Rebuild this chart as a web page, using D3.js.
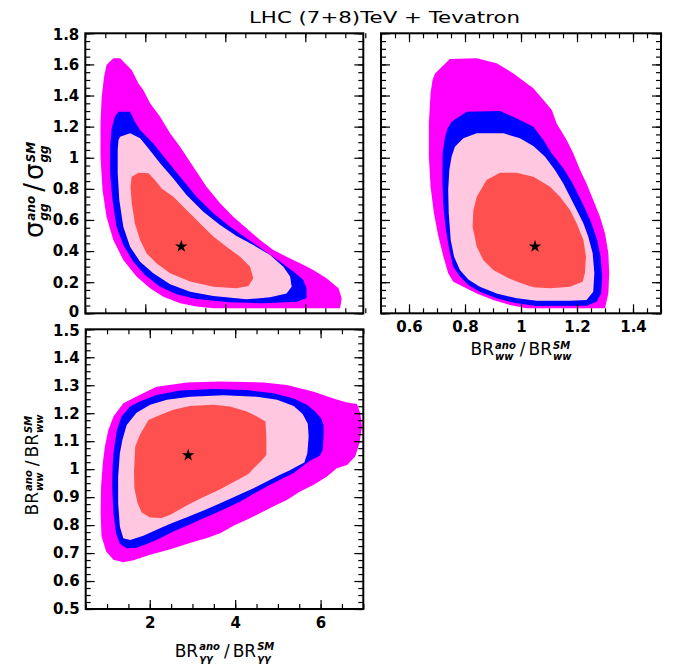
<!DOCTYPE html>
<html><head><meta charset="utf-8">
<script src="https://cdn.jsdelivr.net/npm/d3@7"></script>
<style>body{margin:0;background:#fff}</style>
</head><body>
<svg id="chart" width="673" height="669"></svg>
<script>
// ---------------- DATA ----------------
const titleText = "LHC (7+8)TeV + Tevatron";

const sigmaTicks = [0, 0.2, 0.4, 0.6, 0.8, 1, 1.2, 1.4, 1.6, 1.8];
const brWWxTicks = [0.6, 0.8, 1, 1.2, 1.4];
const brWWyTicks = [0.5, 0.6, 0.7, 0.8, 0.9, 1, 1.1, 1.2, 1.3, 1.4, 1.5];
const brGGTicks = [2, 4, 6];

// Top-left: x = BR_gamgam ratio, y = sigma_gg ratio
const tlMagenta = [[1.20,1.64],[1.37,1.64],[1.66,1.564],[1.83,1.478],[1.95,1.435],[2.12,1.35],[2.37,1.264],[2.62,1.157],[2.87,1.071],[3.20,0.942],[3.53,0.814],[3.87,0.707],[4.20,0.621],[4.53,0.546],[4.87,0.471],[5.20,0.407],[5.53,0.364],[5.87,0.321],[6.20,0.278],[6.53,0.225],[6.83,0.161],[6.91,0.096],[6.87,0.032],[3.70,0.032],[3.28,0.043],[2.87,0.064],[2.45,0.107],[2.12,0.161],[1.78,0.236],[1.45,0.343],[1.20,0.471],[1.03,0.621],[0.93,0.793],[0.88,1.007],[0.88,1.221],[0.91,1.392],[0.97,1.521],[1.03,1.596]];
const tlBlue = [[1.33,1.296],[1.62,1.296],[1.74,1.232],[1.87,1.178],[2.20,1.092],[2.53,0.985],[2.87,0.878],[3.28,0.75],[3.70,0.643],[4.12,0.557],[4.53,0.482],[4.95,0.407],[5.37,0.332],[5.70,0.268],[5.95,0.214],[6.03,0.161],[6.03,0.096],[5.78,0.075],[4.95,0.064],[4.12,0.071],[3.28,0.092],[2.78,0.122],[2.37,0.171],[1.99,0.246],[1.70,0.332],[1.45,0.439],[1.28,0.557],[1.18,0.728],[1.12,0.9],[1.12,1.071],[1.16,1.189],[1.24,1.264]];
const tlPink = [[1.37,1.135],[1.62,1.157],[1.87,1.125],[2.08,1.06],[2.37,0.964],[2.70,0.867],[3.03,0.76],[3.45,0.653],[3.87,0.568],[4.28,0.497],[4.70,0.439],[5.12,0.375],[5.45,0.3],[5.62,0.236],[5.66,0.171],[5.53,0.128],[5.12,0.103],[4.53,0.09],[3.70,0.111],[3.12,0.139],[2.62,0.186],[2.20,0.257],[1.87,0.332],[1.62,0.428],[1.45,0.557],[1.35,0.728],[1.31,0.9],[1.31,1.05],[1.33,1.114]];
const tlRed = [[1.66,0.878],[1.83,0.904],[2.08,0.9],[2.24,0.857],[2.41,0.803],[2.70,0.75],[3.03,0.664],[3.37,0.578],[3.70,0.493],[4.03,0.428],[4.37,0.364],[4.62,0.3],[4.70,0.225],[4.58,0.176],[4.28,0.161],[3.70,0.171],[3.12,0.204],[2.62,0.257],[2.28,0.321],[2.03,0.386],[1.87,0.471],[1.74,0.578],[1.66,0.707],[1.63,0.814]];
const tlBest = [2.9, 0.43];

// Top-right: x = BR_WW ratio, y = sigma_gg ratio
const trMagenta = [[0.693,1.542],[0.746,1.634],[0.842,1.639],[0.913,1.607],[0.973,1.542],[1.044,1.446],[1.08,1.371],[1.11,1.307],[1.127,1.221],[1.163,1.114],[1.187,1.028],[1.211,0.921],[1.234,0.835],[1.258,0.728],[1.282,0.621],[1.30,0.514],[1.312,0.386],[1.315,0.257],[1.312,0.128],[1.30,0.032],[1.02,0.032],[0.961,0.053],[0.901,0.086],[0.842,0.128],[0.794,0.171],[0.758,0.203],[0.74,0.257],[0.723,0.364],[0.705,0.493],[0.689,0.643],[0.677,0.814],[0.671,1.007],[0.671,1.221],[0.677,1.414],[0.684,1.5]];
const trBlue = [[0.752,1.232],[0.806,1.296],[0.925,1.30],[0.985,1.253],[1.044,1.2],[1.08,1.114],[1.11,1.028],[1.151,0.932],[1.181,0.846],[1.205,0.76],[1.228,0.675],[1.252,0.578],[1.272,0.471],[1.284,0.364],[1.29,0.236],[1.286,0.128],[1.27,0.075],[1.234,0.049],[1.056,0.047],[0.985,0.064],[0.913,0.096],[0.853,0.139],[0.812,0.182],[0.782,0.236],[0.758,0.3],[0.744,0.407],[0.732,0.535],[0.723,0.685],[0.719,0.857],[0.72,1.028],[0.729,1.135],[0.738,1.189]];
const trPink = [[0.764,1.071],[0.794,1.125],[0.842,1.157],[0.937,1.157],[0.996,1.125],[1.044,1.075],[1.086,1.007],[1.121,0.921],[1.151,0.835],[1.175,0.75],[1.199,0.664],[1.223,0.578],[1.24,0.493],[1.256,0.386],[1.262,0.257],[1.258,0.139],[1.234,0.086],[1.175,0.081],[1.056,0.081],[0.985,0.096],[0.913,0.128],[0.853,0.171],[0.812,0.218],[0.782,0.278],[0.761,0.364],[0.749,0.471],[0.742,0.643],[0.740,0.793],[0.744,0.921],[0.752,1.007]];
const trRed = [[0.83,0.664],[0.842,0.75],[0.877,0.857],[0.925,0.904],[0.984,0.904],[1.044,0.878],[1.104,0.814],[1.139,0.75],[1.175,0.664],[1.199,0.578],[1.223,0.471],[1.232,0.364],[1.228,0.257],[1.22,0.203],[1.175,0.171],[1.104,0.161],[1.044,0.167],[0.996,0.197],[0.949,0.231],[0.901,0.278],[0.865,0.343],[0.842,0.428],[0.827,0.557]];
const trBest = [1.05, 0.43];

// Bottom-left: x = BR_gamgam ratio, y = BR_WW ratio
const blMagenta = [[1.03,1.14],[1.15,1.188],[1.38,1.236],[1.69,1.26],[2.16,1.295],[2.87,1.31],[3.65,1.313],[4.66,1.31],[5.21,1.301],[5.84,1.277],[6.30,1.253],[6.62,1.238],[6.85,1.233],[6.93,1.2],[6.97,1.152],[6.91,1.093],[6.81,1.045],[6.62,1.015],[6.38,1.003],[6.15,0.974],[5.84,0.944],[5.52,0.92],[5.21,0.890],[4.90,0.867],[4.59,0.843],[4.27,0.819],[3.96,0.798],[3.65,0.771],[3.34,0.754],[2.94,0.736],[2.48,0.714],[2.01,0.694],[1.62,0.674],[1.38,0.667],[1.15,0.676],[0.98,0.706],[0.87,0.76],[0.85,0.843],[0.86,0.938],[0.90,1.021],[0.95,1.081]];
const blBlue = [[1.15,1.057],[1.23,1.14],[1.34,1.188],[1.54,1.224],[1.77,1.242],[2.16,1.265],[2.71,1.281],[3.49,1.287],[4.27,1.283],[4.90,1.271],[5.37,1.253],[5.68,1.230],[5.87,1.206],[6.01,1.182],[6.07,1.158],[6.07,1.117],[6.05,1.069],[5.98,1.048],[5.76,1.031],[5.56,1.009],[5.37,0.986],[5.05,0.962],[4.74,0.938],[4.43,0.912],[4.12,0.884],[3.80,0.861],[3.49,0.840],[3.18,0.819],[2.87,0.798],[2.55,0.777],[2.24,0.753],[1.93,0.732],[1.69,0.719],[1.46,0.717],[1.30,0.733],[1.21,0.771],[1.15,0.843],[1.12,0.938],[1.13,1.01]];
const blPink = [[1.26,0.974],[1.30,1.057],[1.36,1.105],[1.46,1.158],[1.69,1.202],[2.01,1.230],[2.40,1.248],[2.94,1.259],[3.73,1.264],[4.51,1.259],[4.98,1.248],[5.37,1.226],[5.58,1.197],[5.70,1.162],[5.72,1.117],[5.69,1.057],[5.62,1.024],[5.43,1.009],[5.27,0.995],[5.05,0.98],[4.74,0.956],[4.43,0.932],[4.04,0.905],[3.65,0.878],[3.26,0.852],[2.87,0.828],[2.48,0.805],[2.16,0.783],[1.85,0.762],[1.54,0.747],[1.38,0.753],[1.30,0.795],[1.26,0.878]];
const blRed = [[1.63,0.992],[1.66,1.081],[1.77,1.123],[1.97,1.176],[2.24,1.194],[2.55,1.212],[2.94,1.226],[3.49,1.230],[3.88,1.224],[4.27,1.206],[4.51,1.188],[4.71,1.170],[4.73,1.117],[4.73,1.051],[4.62,1.031],[4.44,1.004],[4.31,0.983],[4.04,0.960],[3.65,0.928],[3.26,0.900],[2.94,0.876],[2.71,0.857],[2.48,0.837],[2.28,0.825],[2.01,0.827],[1.81,0.845],[1.71,0.881],[1.64,0.932]];
const blBest = [2.9, 1.05];

// ---------------- CHART ----------------
const svg = d3.select("#chart");
const colors = {magenta:"#ff00ff", blue:"#0000ff", pink:"#ffc8e0", red:"#ff5050"};
const FONT = "DejaVu Sans, Verdana, sans-serif";

svg.append("text")
  .attr("x", 384.5).attr("y", 22.7)
  .attr("text-anchor", "middle")
  .attr("font-family", FONT).attr("font-size", 16)
  .attr("textLength", 271).attr("lengthAdjust", "spacingAndGlyphs")
  .text(titleText);

const r3 = v => +v.toFixed(4);
function minorRange(a, b, step) { return d3.range(a, b + step / 2, step).map(r3); }

const panels = [
  { id:"tl", box:{l:85.3, r:363.3, t:33.3, b:313.3}, xd:[0.5,7.45], yd:[0,1.8],
    xMaj:brGGTicks, xMin:minorRange(0.5,7.45,0.5), yMaj:sigmaTicks, yMin:minorRange(0,1.8,0.05),
    xLab:false, yLab:true, layers:[tlMagenta,tlBlue,tlPink,tlRed], best:tlBest, yShift:{0:-1.8, 1.8:1.2} },
  { id:"tr", box:{l:381, r:661, t:33.3, b:313.3}, xd:[0.5,1.5], yd:[0,1.8],
    xMaj:brWWxTicks, xMin:minorRange(0.5,1.5,0.05), yMaj:sigmaTicks, yMin:minorRange(0,1.8,0.05),
    xLab:true, yLab:false, layers:[trMagenta,trBlue,trPink,trRed], best:trBest, yShift:{} },
  { id:"bl", box:{l:85.7, r:363.3, t:329.3, b:609}, xd:[0.5,7], yd:[0.5,1.5],
    xMaj:brGGTicks, xMin:minorRange(0.5,7,0.5), yMaj:brWWyTicks, yMin:minorRange(0.5,1.5,0.025),
    xLab:true, yLab:true, layers:[blMagenta,blBlue,blPink,blRed], best:blBest, yShift:{1.5:1.2} }
];
const layerColors = [colors.magenta, colors.blue, colors.pink, colors.red];

panels.forEach(p => {
  const {l, r, t, b} = p.box;
  const x = d3.scaleLinear().domain(p.xd).range([l, r]);
  const y = d3.scaleLinear().domain(p.yd).range([b, t]);
  const clipId = "clip-" + p.id;
  svg.append("clipPath").attr("id", clipId).append("rect")
    .attr("x", l).attr("y", t).attr("width", r - l).attr("height", b - t);
  const g = svg.append("g").attr("clip-path", `url(#${clipId})`);
  const line = d3.line().x(d => x(d[0])).y(d => y(d[1])).curve(d3.curveLinearClosed);
  p.layers.forEach((pts, i) => {
    g.append("path").attr("d", line(pts)).attr("fill", layerColors[i]).attr("stroke", "none");
  });
  g.append("path")
    .attr("d", d3.symbol(d3.symbolStar, 48)())
    .attr("transform", `translate(${x(p.best[0])},${y(p.best[1])})`)
    .attr("fill", "#000");

  const fmt = d => String(d);
  const styleAxis = (sel) => {
    sel.select(".domain").remove();
    sel.selectAll(".tick line").attr("stroke", "#000").attr("stroke-width", 1.2);
    sel.selectAll("text").attr("font-family", FONT).attr("font-weight", "bold").attr("font-size", 15).attr("fill", "#000");
  };
  const addAxis = (axis, tx, ty) => svg.append("g").attr("transform", `translate(${tx},${ty})`).call(axis).call(styleAxis);

  // minor ticks
  addAxis(d3.axisBottom(x).tickValues(p.xMin).tickSize(-5).tickFormat(""), 0, b);
  addAxis(d3.axisTop(x).tickValues(p.xMin).tickSize(-5).tickFormat(""), 0, t);
  addAxis(d3.axisLeft(y).tickValues(p.yMin).tickSize(-5).tickFormat(""), l, 0);
  addAxis(d3.axisRight(y).tickValues(p.yMin).tickSize(-5).tickFormat(""), r, 0);
  // major ticks
  addAxis(d3.axisBottom(x).tickValues(p.xMaj).tickSize(-9).tickPadding(8).tickFormat(p.xLab ? fmt : ""), 0, b);
  addAxis(d3.axisTop(x).tickValues(p.xMaj).tickSize(-9).tickFormat(""), 0, t);
  const ly = addAxis(d3.axisLeft(y).tickValues(p.yMaj).tickSize(-9).tickPadding(6).tickFormat(p.yLab ? fmt : ""), l, 0);
  ly.selectAll(".tick text").attr("y", d => (p.yShift[d] || 0));
  addAxis(d3.axisRight(y).tickValues(p.yMaj).tickSize(-9).tickFormat(""), r, 0);

  svg.append("rect").attr("x", l).attr("y", t).attr("width", r - l).attr("height", b - t)
    .attr("fill", "none").attr("stroke", "#000").attr("stroke-width", 2);
});

// ratio labels: base with stacked sup/sub, "/", base with stacked sup/sub
function ratioLabel(tx, ty, rot, base, baseSize, sub, supA, supB, scriptSize, supDy) {
  const g = svg.append("g").attr("transform", `translate(${tx},${ty}) rotate(${rot})`);
  const inner = g.append("g");
  let cx = 0;
  const piece = (txt, size, weight, style, dy) => {
    const tNode = inner.append("text").attr("x", cx).attr("y", dy)
      .attr("font-family", FONT).attr("font-size", size)
      .attr("font-weight", weight).attr("font-style", style)
      .attr("fill", "#000").text(txt);
    return tNode.node().getComputedTextLength();
  };
  const block = (sup) => {
    cx += piece(base, baseSize, "normal", "normal", 0) + 1;
    const ws = piece(sup, scriptSize, "bold", "italic", supDy);
    const wb = piece(sub, scriptSize, "bold", "italic", 5);
    cx += Math.max(ws, wb);
  };
  block(supA);
  cx += 4;
  cx += piece("/", baseSize, "normal", "normal", 0) + 3;
  block(supB);
  inner.attr("transform", `translate(${-cx / 2},0)`);
}

ratioLabel(521, 355, 0, "BR", 17, "ww", "ano", "SM", 10, -6.5);
ratioLabel(224.5, 656.7, 0, "BR", 17, "γγ", "ano", "SM", 10, -6.5);
ratioLabel(38, 465, -90, "BR", 17, "ww", "ano", "SM", 10, -6.5);
ratioLabel(43, 190, -90, "σ", 26, "gg", "ano", "SM", 12, -8);
</script>
</body></html>
